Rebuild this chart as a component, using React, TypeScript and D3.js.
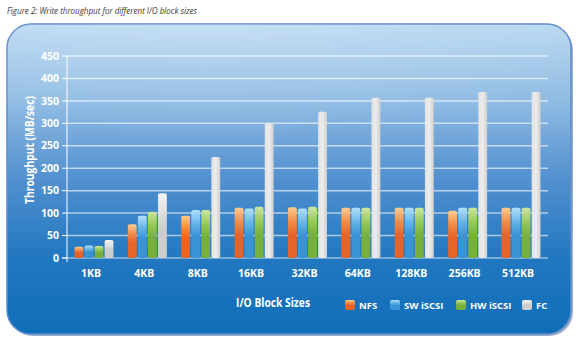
import React from "react";
import * as d3 from "d3";

const categories = ["1KB", "4KB", "8KB", "16KB", "32KB", "64KB", "128KB", "256KB", "512KB"];
const seriesNames = ["NFS", "SW iSCSI", "HW iSCSI", "FC"];
const nfs = [25, 75, 94, 112, 113, 112, 112, 105, 112];
const swIscsi = [28, 94, 107, 110, 110, 112, 112, 112, 112];
const hwIscsi = [27, 103, 107, 114, 114, 112, 112, 112, 112];
const fc = [40, 144, 225, 300, 326, 357, 357, 370, 370];
const yTicks = [0, 50, 100, 150, 200, 250, 300, 350, 400, 450];

const seriesValues = [nfs, swIscsi, hwIscsi, fc];
const gradIds = ["gNfs", "gSw", "gHw", "gFc"];
const gradStops: [string, string, string][] = [
  ["#fdcb90", "#f08a45", "#e5642a"],
  ["#b2e0fa", "#62b2e8", "#3a93d4"],
  ["#cde6a0", "#94c857", "#77b03c"],
  ["#f4f4f4", "#dedede", "#cdcdcd"],
];

const W = 580;
const H = 344;
const plotLeft = 67;
const plotRight = 548;
const plotTop = 56;
const plotBottom = 258;

export default function App() {
  const x = d3
    .scaleBand<string>()
    .domain(categories)
    .range([plotLeft, plotRight])
    .paddingInner(0.27)
    .paddingOuter(0.14);
  const xs = d3
    .scaleBand<string>()
    .domain(seriesNames)
    .range([0, x.bandwidth()])
    .paddingInner(0.12);
  const y = d3.scaleLinear().domain([0, 450]).range([plotBottom, plotTop]);

  const font = "'Open Sans', 'Noto Sans', sans-serif";
  const legendX = [345, 390, 456, 522];

  return (
    <svg width={W} height={H} style={{ position: "absolute", left: 0, top: 0 }}>
      <defs>
        <linearGradient id="panelBg" x1="0" y1="0" x2="0" y2="1">
          <stop offset="0" stopColor="#bad8f1" />
          <stop offset="0.25" stopColor="#8fbbe3" />
          <stop offset="0.5" stopColor="#5290cf" />
          <stop offset="0.75" stopColor="#2278c0" />
          <stop offset="1" stopColor="#0f6eb8" />
        </linearGradient>
        <radialGradient id="gloss" cx="0.35" cy="0" r="0.75">
          <stop offset="0" stopColor="#ffffff" stopOpacity="0.18" />
          <stop offset="0.7" stopColor="#ffffff" stopOpacity="0.06" />
          <stop offset="1" stopColor="#ffffff" stopOpacity="0" />
        </radialGradient>
        {gradIds.map((id, i) => (
          <linearGradient key={id} id={id} x1="0" y1="0" x2="0" y2="1">
            <stop offset="0" stopColor={gradStops[i][0]} />
            <stop offset="0.3" stopColor={gradStops[i][1]} />
            <stop offset="0.55" stopColor={gradStops[i][2]} />
            <stop offset="1" stopColor={gradStops[i][2]} />
          </linearGradient>
        ))}
        <linearGradient id="gFcTall" x1="0" y1="0" x2="1" y2="0">
          <stop offset="0" stopColor="#e2e2e2" />
          <stop offset="0.5" stopColor="#ececec" />
          <stop offset="1" stopColor="#cfcfcf" />
        </linearGradient>
      </defs>

      <text
        x={7}
        y={14}
        fontFamily={font}
        fontStyle="italic"
        fontSize={9}
        fill="#3a3a3a"
        textLength={190}
        lengthAdjust="spacingAndGlyphs"
      >
        Figure 2: Write throughput for different I/O block sizes
      </text>

      {/* panel */}
      <rect x={9} y={26} width={564} height={310} rx={24} fill="#3b5f95" opacity={0.5} />
      <rect x={7} y={24} width={564} height={310} rx={24} fill="url(#panelBg)" stroke="#5f8ccc" strokeWidth={1.5} />
      <path
        d={`M7,120 Q250,210 571,150 L571,48 Q571,24 547,24 L31,24 Q7,24 7,48 Z`}
        fill="url(#gloss)"
      />

      {/* gridlines */}
      {yTicks.map((t) => (
        <g key={t}>
          {t > 0 && (
            <line
              x1={plotLeft}
              x2={plotRight}
              y1={y(t)}
              y2={y(t)}
              stroke="#ffffff"
              strokeOpacity={0.6}
              strokeWidth={1.5}
            />
          )}
          <line x1={plotLeft - 5} x2={plotLeft} y1={y(t)} y2={y(t)} stroke="#ffffff" strokeWidth={1} />
          <text
            x={plotLeft - 8}
            y={y(t)}
            dy="0.35em"
            textAnchor="end"
            fontFamily={font}
            fontWeight="bold"
            fontSize={10.5}
            fill="#ffffff"
          >
            {t}
          </text>
        </g>
      ))}

      {/* axes */}
      <line x1={plotLeft} x2={plotLeft} y1={plotTop} y2={plotBottom + 4} stroke="#ffffff" strokeWidth={1} />
      <line x1={plotLeft - 5} x2={plotRight} y1={plotBottom} y2={plotBottom} stroke="#ffffff" strokeOpacity={0.8} strokeWidth={1.2} />

      {/* bars */}
      {categories.map((c, ci) => (
        <g key={c} transform={`translate(${x(c)},0)`}>
          {seriesNames.map((s, si) => {
            const v = seriesValues[si][ci];
            const top = y(v);
            return (
              <rect
                key={s}
                x={xs(s)}
                y={top}
                width={xs.bandwidth()}
                height={plotBottom - top}
                rx={1.8}
                fill={si === 3 && v > 200 ? "url(#gFcTall)" : `url(#${gradIds[si]})`}
              />
            );
          })}
          <text
            x={x.bandwidth() / 2 - 3}
            y={277}
            textAnchor="middle"
            fontFamily={font}
            fontWeight="bold"
            fontSize={10.5}
            fill="#ffffff"
          >
            {c}
          </text>
        </g>
      ))}

      {/* axis titles */}
      <text
        transform={`translate(34,150) rotate(-90)`}
        textAnchor="middle"
        fontFamily={font}
        fontWeight="bold"
        fontSize={11.5}
        fill="#ffffff"
        textLength={108}
        lengthAdjust="spacingAndGlyphs"
      >
        Throughput (MB/sec)
      </text>
      <text
        x={273}
        y={307}
        textAnchor="middle"
        fontFamily={font}
        fontWeight="bold"
        fontSize={12}
        fill="#ffffff"
        textLength={74}
        lengthAdjust="spacingAndGlyphs"
      >
        I/O Block Sizes
      </text>

      {/* legend */}
      {seriesNames.map((s, i) => (
        <g key={s} transform={`translate(${legendX[i]},300)`}>
          <rect x={0} y={0} width={10} height={10} rx={2} fill={`url(#${gradIds[i]})`} />
          <text
            x={14}
            y={9}
            fontFamily={font}
            fontWeight="bold"
            fontSize={9.5}
            fill="#ffffff"
          >
            {s}
          </text>
        </g>
      ))}
    </svg>
  );
}
